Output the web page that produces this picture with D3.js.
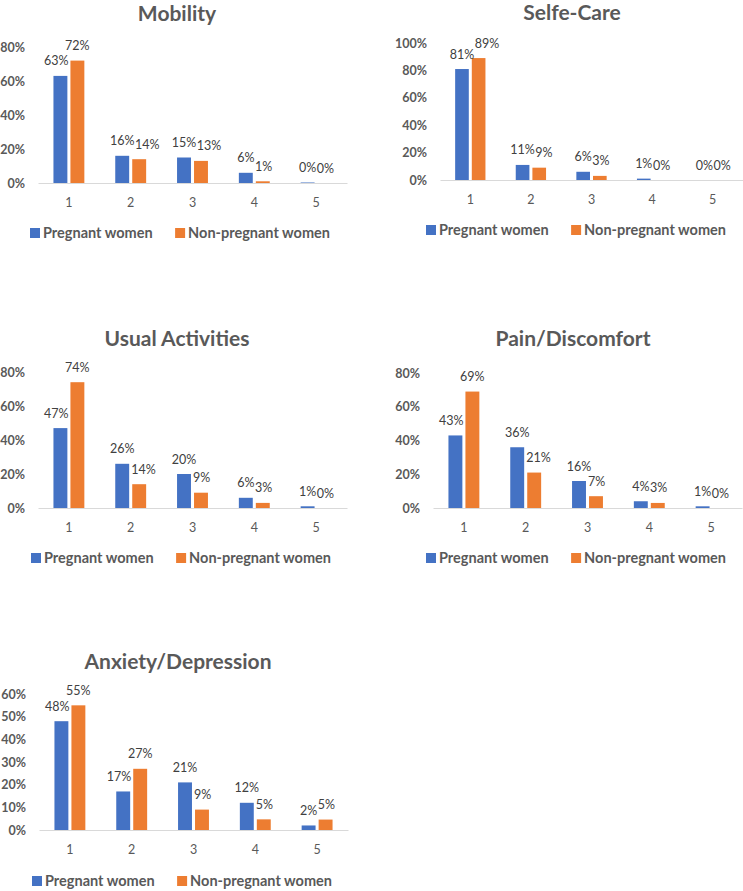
<!DOCTYPE html>
<html>
<head>
<meta charset="utf-8">
<script src="https://cdn.jsdelivr.net/npm/d3@7"></script>
<style>
  html, body { margin: 0; padding: 0; background: #ffffff; }
  svg { display: block; }
</style>
</head>
<body>
<svg id="chart" width="743" height="891"></svg>
<script>
// ---------------- DATA ----------------
const categories = ["1", "2", "3", "4", "5"];
const seriesNames = ["Pregnant women", "Non-pregnant women"];
const seriesColors = ["#4472C4", "#ED7D31"];

const chartTitles = ["Mobility", "Selfe-Care", "Usual Activities", "Pain/Discomfort", "Anxiety/Depression"];

const mobilityPregnant      = [63, 16, 15, 6, 0.3];
const mobilityNonPregnant   = [72, 14, 13, 1, 0];
const selfCarePregnant      = [81, 11, 6, 1, 0];
const selfCareNonPregnant   = [89, 9, 3, 0, 0];
const usualPregnant         = [47, 26, 20, 6, 1];
const usualNonPregnant      = [74, 14, 9, 3, 0];
const painPregnant          = [43, 36, 16, 4, 1];
const painNonPregnant       = [69, 21, 7, 3, 0];
const anxietyPregnant       = [48, 17, 21, 12, 2];
const anxietyNonPregnant    = [55, 27, 9, 4.7, 4.6];

const axisMax  = [80, 100, 80, 80, 60];
const axisStep = [20, 20, 20, 20, 10];

// ---------------- LAYOUT ----------------
const layouts = [
  { tx: 177, ty: 21,  x0: 38,  x1: 347, yTop: 47,  base: 183, legY: 233, legX: 30 },
  { tx: 572, ty: 20,  x0: 440, x1: 743, yTop: 43,  base: 180, legY: 230, legX: 426 },
  { tx: 177, ty: 346, x0: 38,  x1: 347, yTop: 372, base: 508, legY: 558, legX: 31 },
  { tx: 573, ty: 346, x0: 433, x1: 742, yTop: 373, base: 508, legY: 558, legX: 426 },
  { tx: 178, ty: 669, x0: 39,  x1: 348, yTop: 694, base: 830, legY: 881, legX: 32 }
];

const panels = [
  [mobilityPregnant, mobilityNonPregnant],
  [selfCarePregnant, selfCareNonPregnant],
  [usualPregnant, usualNonPregnant],
  [painPregnant, painNonPregnant],
  [anxietyPregnant, anxietyNonPregnant]
];

const FONT = "Lato, Calibri, 'Open Sans', sans-serif";
const svg = d3.select("#chart");

panels.forEach((series, pi) => {
  const L = layouts[pi];
  const g = svg.append("g");

  const x = d3.scaleBand().domain(categories).range([L.x0, L.x1])
    .paddingInner(0.5).paddingOuter(0.25);
  const xs = d3.scaleBand().domain(seriesNames).range([0, x.bandwidth()])
    .paddingInner(0.18);
  const y = d3.scaleLinear().domain([0, axisMax[pi]]).range([L.base, L.yTop]);

  // title
  g.append("text")
    .attr("x", L.tx).attr("y", L.ty)
    .attr("text-anchor", "middle")
    .attr("font-family", FONT).attr("font-size", 21).attr("font-weight", "bold")
    .attr("fill", "#595959")
    .text(chartTitles[pi]);

  // y axis
  const ticks = d3.range(0, axisMax[pi] + axisStep[pi] / 2, axisStep[pi]);
  const ya = g.append("g")
    .attr("transform", `translate(${L.x0 - 13},0)`)
    .call(d3.axisLeft(y).tickValues(ticks).tickSize(0).tickPadding(0).tickFormat(d => d + "%"));
  ya.select(".domain").remove();
  ya.selectAll("text")
    .attr("font-family", FONT).attr("font-size", 12.5).attr("font-weight", "bold")
    .attr("fill", "#595959");

  // x axis
  const xa = g.append("g")
    .attr("transform", `translate(0,${L.base})`)
    .call(d3.axisBottom(x).tickSize(0).tickSizeOuter(0).tickPadding(15));
  xa.select(".domain").attr("stroke", "#D9D9D9").attr("stroke-width", 1);
  xa.selectAll("text")
    .attr("font-family", FONT).attr("font-size", 12.5)
    .attr("fill", "#595959");

  // bars
  series.forEach((vals, si) => {
    g.append("g").selectAll("rect")
      .data(vals)
      .join("rect")
      .attr("x", (d, i) => x(categories[i]) + xs(seriesNames[si]))
      .attr("y", d => y(d))
      .attr("width", xs.bandwidth())
      .attr("height", d => L.base - y(d))
      .attr("fill", seriesColors[si]);
  });

  // value labels with simple collision avoidance
  const lg = g.append("g");
  categories.forEach((c, i) => {
    const bw = xs.bandwidth();
    const barA = { left: x(c) + xs(seriesNames[0]), top: y(series[0][i]) };
    const barB = { left: x(c) + xs(seriesNames[1]), top: y(series[1][i]) };
    barA.right = barA.left + bw; barB.right = barB.left + bw;
    const mk = (bar, v) => {
      const t = lg.append("text")
        .attr("font-family", FONT).attr("font-size", 12.5)
        .attr("fill", "#404040")
        .attr("text-anchor", "middle")
        .text(Math.round(v) + "%");
      const w = t.node().getComputedTextLength();
      return { t, w, cx: bar.left + bw / 2, base: bar.top - 10.5 };
    };
    const a = mk(barA, series[0][i]);
    const b = mk(barB, series[1][i]);
    // label A against bar B
    if (a.base > barB.top + 1 && a.cx + a.w / 2 > barB.left - 2) {
      a.cx = barB.left - 2 - a.w / 2;
    }
    // label B against bar A
    if (b.base > barA.top + 1 && b.cx - b.w / 2 < barA.right + 2) {
      b.cx = barA.right + 2 + b.w / 2;
    }
    // label against label
    const vOverlap = Math.abs(a.base - b.base) < 14;
    const aRight = a.cx + a.w / 2, bLeft = b.cx - b.w / 2;
    if (vOverlap && aRight + 0.5 > bLeft) {
      b.cx += (aRight + 0.5 - bLeft);
    }
    a.t.attr("x", a.cx).attr("y", a.base);
    b.t.attr("x", b.cx).attr("y", b.base);
  });

  // legend
  const leg = g.append("g");
  let lx = L.legX;
  seriesNames.forEach((name, si) => {
    leg.append("rect")
      .attr("x", lx).attr("y", L.legY - 5)
      .attr("width", 10).attr("height", 10)
      .attr("fill", seriesColors[si]);
    const t = leg.append("text")
      .attr("x", lx + 13).attr("y", L.legY + 5)
      .attr("font-family", FONT).attr("font-size", 14.5).attr("font-weight", "bold")
      .attr("fill", "#595959")
      .text(name);
    lx = lx + 13 + t.node().getComputedTextLength() + 22.5;
  });
});
</script>
</body>
</html>
